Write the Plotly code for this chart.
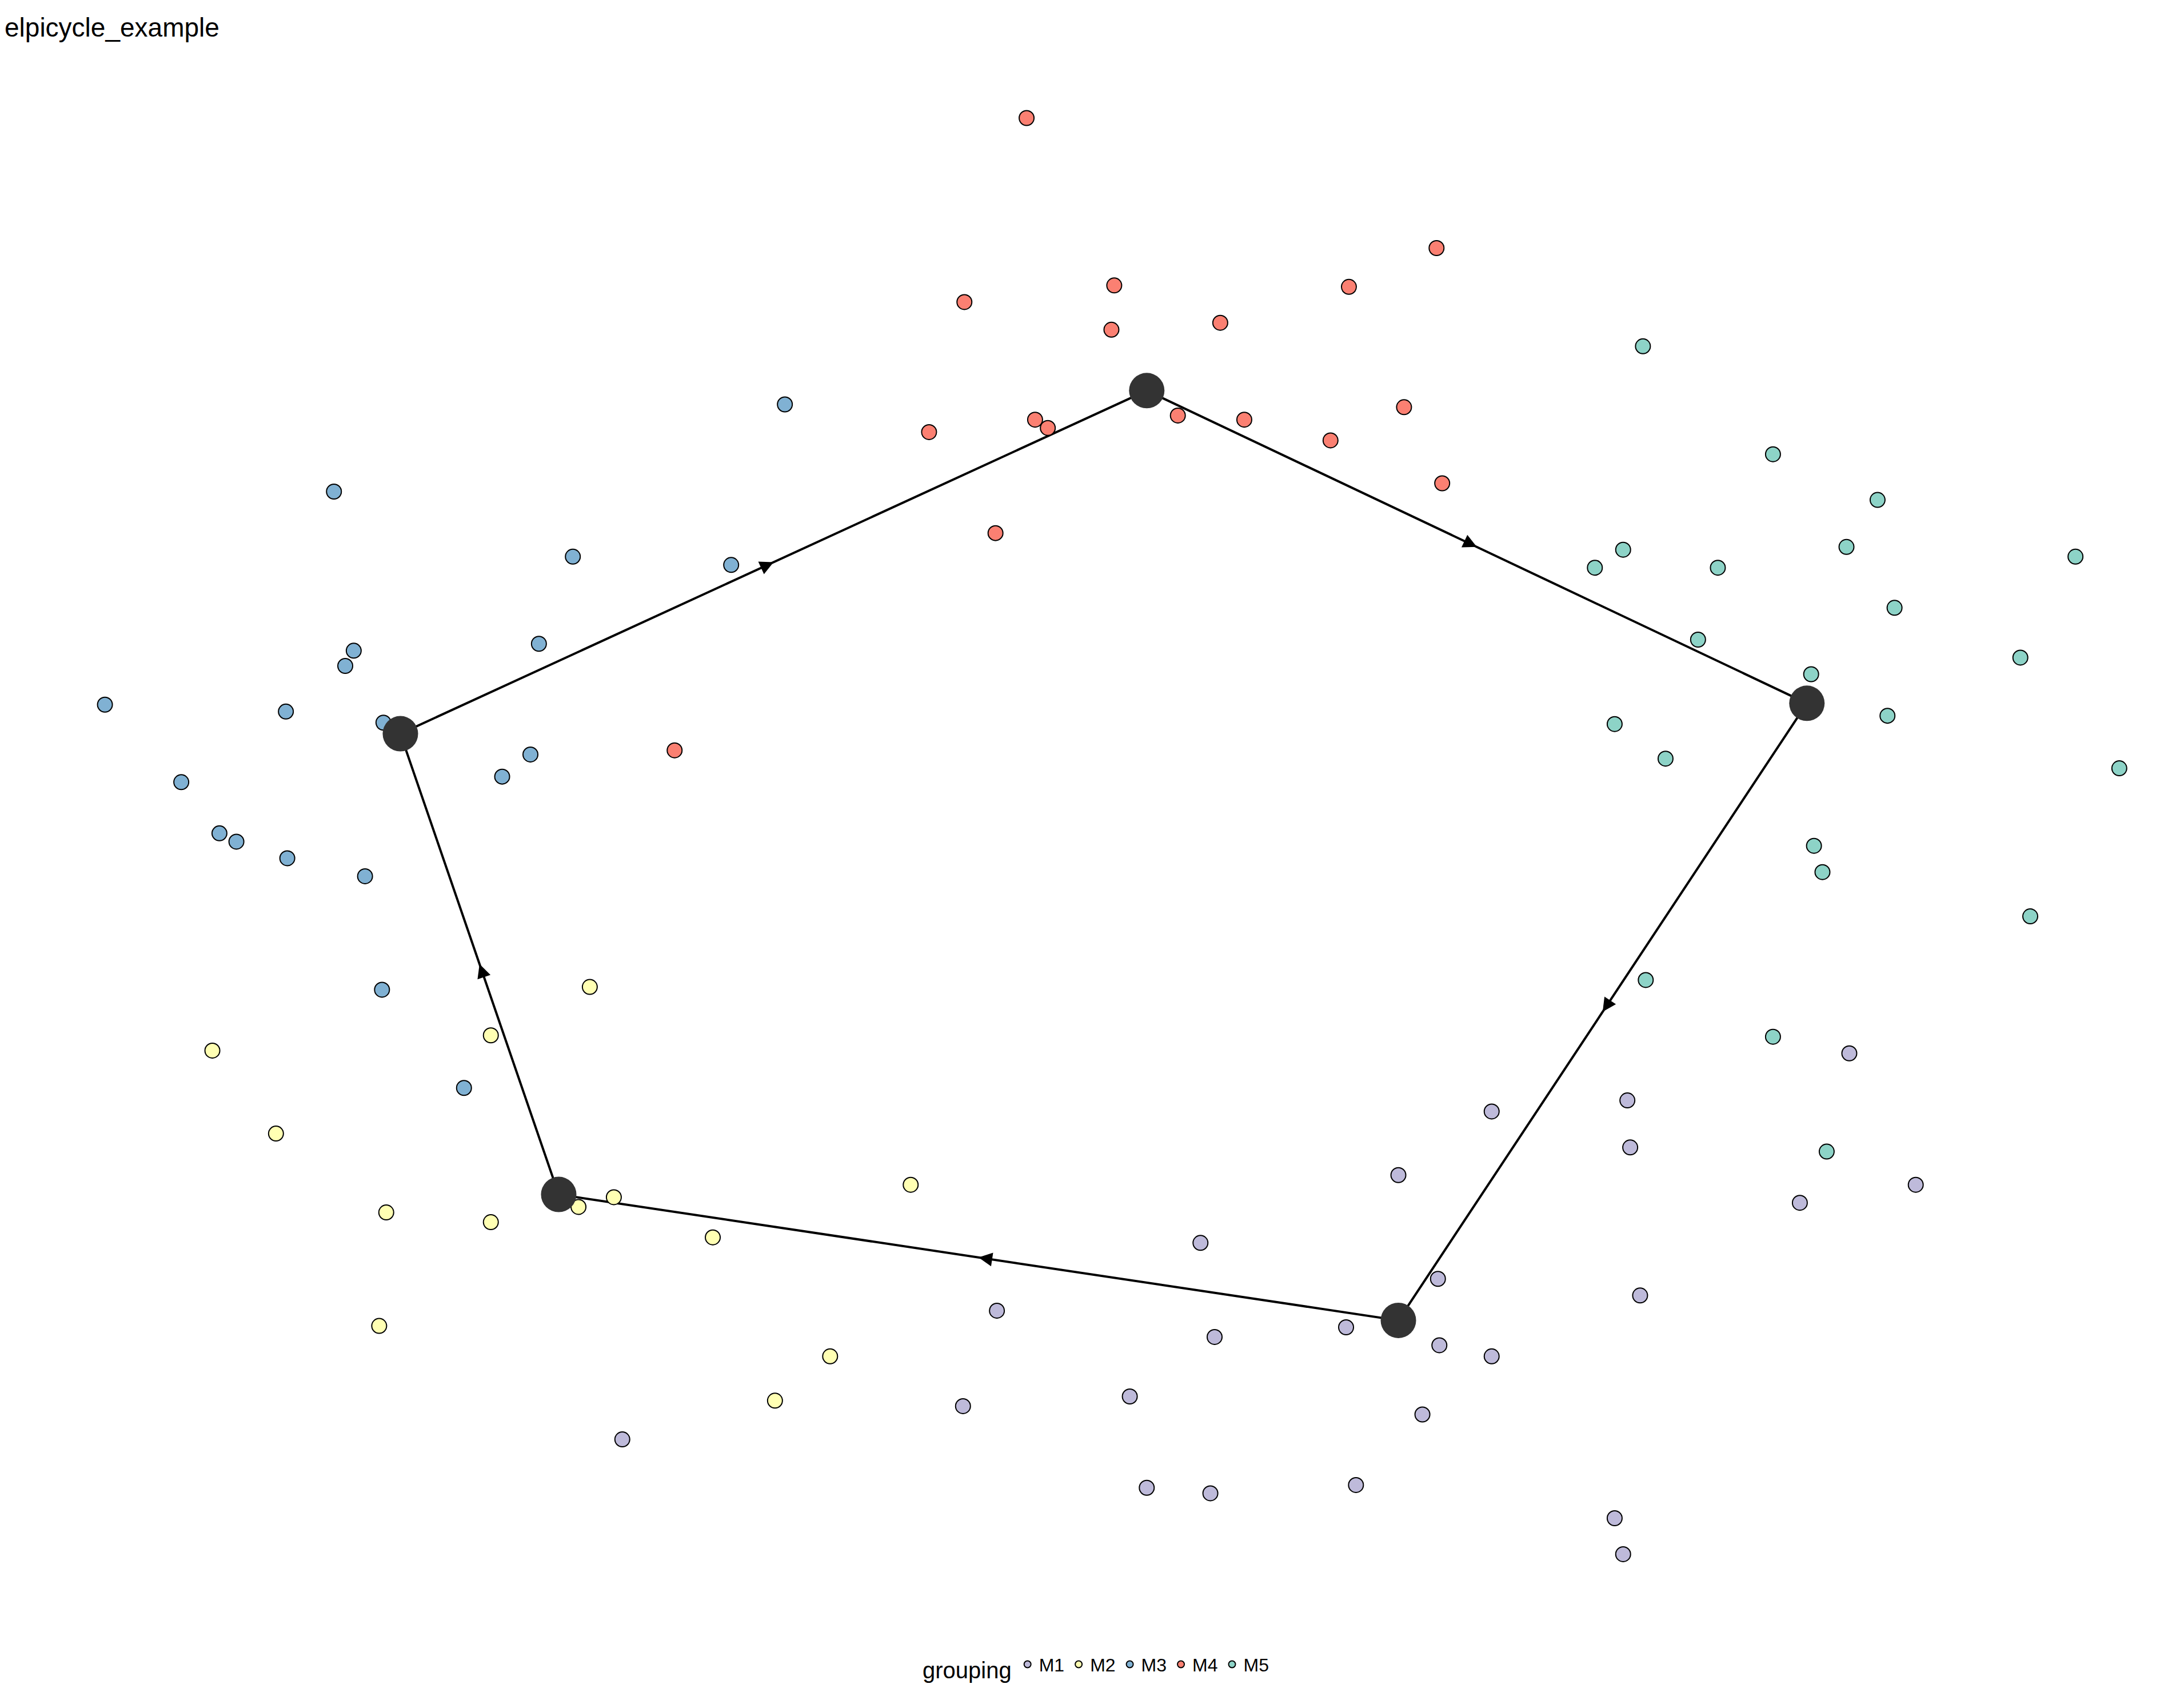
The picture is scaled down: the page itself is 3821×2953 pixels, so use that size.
import numpy as np
import plotly.graph_objects as go

# point positions (x right, y down)
m1_x = [1305, 1148, 1052, 1150, 986, 1352, 1270, 846, 1014, 1157, 702, 949, 856, 1015, 1052, 796, 678, 1003, 437, 808, 853, 956, 1139, 1145]
m1_y = [758, 792, 800, 826, 846, 853, 866, 895, 921, 933, 944, 956, 963, 969, 977, 1006, 1013, 1019, 1037, 1072, 1076, 1070, 1094, 1120]
m2_x = [414, 344, 147, 192, 641, 431, 406, 270, 344, 501, 265, 584, 545]
m2_y = [710, 745, 756, 816, 853, 862, 869, 873, 880, 891, 955, 977, 1009]
m3_x = [552, 233, 402, 514, 378, 247, 241, 71, 199, 268, 372, 352, 125, 152, 164, 200, 255, 267, 325]
m3_y = [289, 352, 399, 405, 462, 467, 478, 506, 511, 519, 542, 558, 562, 599, 605, 617, 630, 712, 783]
m4_x = [723, 1013, 679, 785, 951, 783, 860, 654, 729, 738, 830, 877, 938, 990, 1017, 701, 474]
m4_y = [82, 176, 215, 203, 204, 235, 230, 309, 300, 306, 297, 300, 315, 291, 346, 382, 539]
m5_x = [1159, 1251, 1325, 1303, 1145, 1125, 1212, 1465, 1337, 1198, 1426, 1278, 1332, 1139, 1175, 1496, 1280, 1286, 1433, 1161, 1251, 1289]
m5_y = [247, 325, 358, 392, 394, 407, 407, 399, 436, 459, 472, 484, 514, 520, 545, 552, 608, 627, 659, 705, 746, 829]

groups = ["M1", "M2", "M3", "M4", "M5"]
colors = ["#BEBADA", "#FFFFB3", "#80B1D3", "#FB8072", "#8DD3C7"]
xs = [m1_x, m2_x, m3_x, m4_x, m5_x]
ys = [m1_y, m2_y, m3_y, m4_y, m5_y]

# cycle nodes, in order of the arrows
node_x = [808, 1275, 986, 392, 280]
node_y = [279, 505, 951, 860, 527]

fig = go.Figure()

cx = node_x + [node_x[0]]
cy = node_y + [node_y[0]]
fig.add_trace(go.Scatter(x=cx, y=cy, mode="lines", line=dict(color="black", width=4),
                         showlegend=False, hoverinfo="skip"))

for g, c, x, y in zip(groups, colors, xs, ys):
    fig.add_trace(go.Scatter(x=x, y=y, mode="markers", name=g,
                             marker=dict(color=c, size=26, line=dict(color="black", width=2))))

fig.add_trace(go.Scatter(x=node_x, y=node_y, mode="markers", showlegend=False,
                         marker=dict(color="#333333", size=62)))

for i in range(len(node_x)):
    x0, y0, x1, y1 = cx[i], cy[i], cx[i + 1], cy[i + 1]
    mx, my = (x0 + x1) / 2, (y0 + y1) / 2
    fig.add_annotation(x=mx, y=my, ax=mx - (x1 - x0) * 0.01, ay=my - (y1 - y0) * 0.01,
                       xref="x", yref="y", axref="x", ayref="y", text="",
                       showarrow=True, arrowhead=2, arrowsize=1.2, arrowwidth=4, arrowcolor="black")

fig.update_xaxes(range=[0, 1545], visible=False)
fig.update_yaxes(range=[1220, 0], visible=False)
fig.update_layout(
    width=3821, height=2953,
    plot_bgcolor="white", paper_bgcolor="white",
    margin=dict(l=0, r=0, t=0, b=0),
    font=dict(family="Liberation Sans, Arial", size=34, color="black"),
    title=dict(text="elpicycle_example", x=0.0, y=0.992, xanchor="left", yanchor="top",
               font=dict(size=46)),
    legend=dict(orientation="h", x=0.5, xanchor="center", y=0.005, yanchor="bottom",
                title=dict(text="grouping", font=dict(size=40)), itemsizing="constant",
                font=dict(size=32)),
)

fig.write_html("out.html")
